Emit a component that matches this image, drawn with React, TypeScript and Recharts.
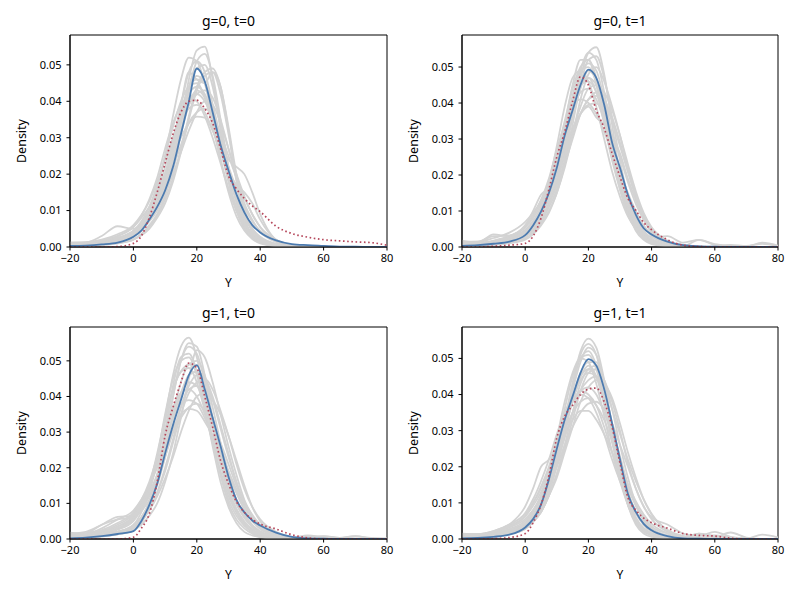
import React from "react";
import { LineChart, Line, XAxis, YAxis, ReferenceArea } from "recharts";

// shared x grid for all density curves
const GRID_X = [-20, -15, -10, -5, 0, 2.5, 5, 7.5, 10, 12.5, 15, 17.5, 20, 22.5, 25, 27.5, 30, 32.5, 35, 37.5, 40, 45, 50, 55, 60, 65, 70, 75, 80];
const X_TICKS = [-20, 0, 20, 40, 60, 80];
const Y_TICKS = [0, 0.01, 0.02, 0.03, 0.04, 0.05];

// ---------- panel g=0, t=0 ----------
const P1_MEAN = [.0003, .0004, .0007, .0012, .0028, .0045, .0075, .011, .0155, .022, .031, .040, .049, .0455, .037, .028, .021, .0145, .0095, .006, .0040, .0018, .0008, .0005, .0003, .0001, .0001, 0, 0];
const P1_OBS = [0, 0, 0, .0001, .001, .003, .008, .015, .023, .031, .037, .040, .0403, .038, .034, .027, .0195, .016, .0133, .0113, .0097, .0057, .0037, .0027, .002, .0017, .0014, .0012, .0005];
const P1_DRAWS = [
  [.0005, .0006, .0008, .0015, .003, .005, .008, .012, .017, .024, .034, .046, .054, .055, .046, .032, .019, .010, .005, .0025, .0012, .0004, .0002, .0001, 0, 0, 0, 0, 0],
  [.0012, .0012, .0018, .003, .0055, .008, .011, .015, .020, .025, .030, .034, .0358, .0355, .032, .027, .022, .016, .011, .007, .0045, .0015, .0005, .0002, .0001, 0, 0, 0, 0],
  [.0008, .0009, .0012, .002, .004, .006, .009, .013, .019, .028, .039, .048, .046, .045, .048, .044, .032, .018, .008, .003, .0012, .0003, .0001, 0, 0, 0, 0, 0, 0],
  [.0006, .0008, .0012, .002, .0035, .005, .007, .010, .015, .022, .031, .039, .043, .041, .035, .028, .024, .022, .020, .015, .009, .002, .0005, .0002, 0, 0, 0, 0, 0],
  [.001, .0012, .003, .0057, .005, .006, .009, .014, .020, .027, .035, .043, .047, .045, .037, .027, .018, .011, .0065, .0035, .0018, .0005, .0002, .0001, 0, 0, 0, 0, 0],
  [.0003, .0004, .0006, .001, .002, .0035, .006, .009, .014, .021, .031, .043, .051, .053, .047, .035, .022, .012, .006, .003, .0013, .0004, .0001, 0, 0, 0, 0, 0, 0],
  [.0008, .0009, .0012, .002, .0035, .005, .0075, .011, .015, .020, .026, .032, .037, .040, .039, .034, .027, .020, .014, .009, .0055, .002, .0006, .0002, .0001, 0, 0, 0, 0],
  [.001, .001, .0015, .0025, .0045, .007, .011, .017, .025, .033, .040, .044, .045, .041, .033, .024, .016, .010, .006, .0035, .002, .0007, .0002, .0001, 0, 0, 0, 0, 0],
  [.0006, .0007, .001, .0018, .0035, .0055, .009, .014, .020, .029, .039, .048, .051, .048, .039, .028, .018, .010, .0055, .003, .0015, .0005, .0001, 0, 0, 0, 0, 0, 0],
  [.0009, .001, .0015, .0025, .0045, .0065, .009, .0125, .017, .022, .028, .034, .037, .038, .036, .031, .025, .019, .0135, .009, .0055, .0018, .0005, .0002, .0001, 0, 0, 0, 0],
  [.0005, .0005, .0007, .0012, .0022, .0035, .0055, .0085, .013, .019, .027, .036, .044, .048, .049, .044, .033, .020, .010, .004, .0015, .0004, .0001, 0, 0, 0, 0, 0, 0],
  [.0008, .0009, .0012, .002, .004, .0065, .010, .015, .022, .030, .037, .041, .042, .040, .035, .028, .020, .013, .008, .0045, .0025, .0008, .0003, .0001, 0, 0, 0, 0, 0],
  [.0004, .0005, .0008, .0014, .0028, .0045, .0072, .011, .016, .024, .034, .044, .049, .050, .044, .033, .022, .013, .007, .0035, .0016, .0005, .0001, 0, 0, 0, 0, 0, 0],
  [.0007, .0008, .0012, .002, .004, .006, .0095, .014, .020, .028, .037, .044, .046, .045, .039, .030, .021, .014, .0085, .005, .0025, .0008, .0002, 0, 0, 0, 0, 0, 0],
  [.0006, .0007, .001, .0017, .0032, .005, .0078, .012, .017, .024, .032, .039, .042, .043, .041, .035, .027, .019, .012, .0075, .0042, .0014, .0004, .0001, 0, 0, 0, 0, 0],
  [.0012, .0013, .002, .0035, .006, .0088, .0125, .018, .024, .030, .035, .038, .039, .037, .032, .026, .019, .013, .0085, .005, .0028, .0009, .0003, .0001, 0, 0, 0, 0, 0],
  [.0004, .0004, .0006, .001, .002, .0032, .005, .008, .012, .018, .026, .035, .043, .047, .048, .042, .031, .019, .0105, .005, .0022, .0006, .0002, 0, 0, 0, 0, 0, 0],
  [.0006, .0007, .001, .0018, .0036, .006, .0098, .016, .025, .036, .046, .052, .051, .045, .035, .024, .015, .0085, .0045, .0022, .001, .0003, .0001, 0, 0, 0, 0, 0, 0],
  [.0007, .0008, .0011, .0018, .0034, .0052, .008, .012, .018, .026, .035, .042, .044, .042, .036, .028, .021, .017, .015, .012, .0075, .002, .0005, .0001, 0, 0, 0, 0, 0],
  [.001, .0011, .0017, .003, .0055, .0085, .013, .019, .027, .034, .039, .041, .040, .036, .030, .023, .016, .0105, .0065, .0038, .002, .0007, .0002, .0001, 0, 0, 0, 0, 0],
];

// ---------- panel g=0, t=1 ----------
const P2_MEAN = [.0003, .0005, .0009, .0015, .0033, .006, .0098, .015, .022, .031, .038, .045, .0493, .047, .0395, .029, .022, .0145, .009, .0052, .0035, .0015, .0005, .0002, .0001, 0, 0, 0, 0];
const P2_OBS = [0, 0, .0002, .0005, .001, .003, .008, .016, .025, .032, .0405, .0473, .045, .038, .033, .026, .0195, .0135, .0102, .0068, .0048, .002, .0005, .0001, 0, 0, 0, 0, 0];
const P2_DRAWS = [
  [.0004, .0005, .0008, .0015, .003, .005, .008, .012, .018, .026, .036, .047, .054, .0555, .048, .034, .020, .010, .0045, .002, .0008, .0002, .0001, 0, 0, 0, 0, 0, 0],
  [.0015, .0015, .0025, .004, .007, .0095, .0125, .016, .021, .027, .033, .037, .039, .036, .034, .031, .026, .019, .013, .008, .0045, .0015, .0005, .0002, .0001, 0, 0, 0, 0],
  [.0018, .0012, .0035, .003, .006, .010, .0145, .0165, .021, .028, .036, .044, .049, .046, .037, .026, .017, .010, .006, .0035, .0018, .0006, .0002, .0001, 0, 0, 0, 0, 0],
  [.0006, .0007, .001, .002, .004, .0065, .010, .016, .024, .034, .045, .052, .052, .045, .034, .024, .016, .010, .006, .0035, .002, .0006, .0002, 0, 0, 0, 0, 0, 0],
  [.0003, .0004, .0006, .001, .002, .0035, .006, .0095, .015, .022, .031, .041, .048, .050, .046, .039, .031, .022, .014, .008, .004, .0012, .0004, .0001, 0, 0, 0, 0, 0],
  [.0008, .0009, .0013, .0022, .004, .0065, .0105, .016, .023, .031, .038, .043, .044, .041, .035, .028, .021, .015, .010, .006, .0035, .0012, .0004, .0001, 0, 0, 0, 0, 0],
  [.0005, .0006, .0009, .0015, .003, .0048, .0075, .012, .018, .027, .038, .049, .054, .052, .043, .031, .020, .011, .0055, .0025, .0012, .0004, .0001, 0, 0, 0, 0, 0, 0],
  [.0008, .0008, .0012, .002, .0038, .006, .009, .014, .021, .029, .038, .045, .047, .045, .038, .029, .020, .013, .0075, .004, .0028, .003, .0012, .002, .0008, .0004, .0002, .0012, .0004],
  [.001, .001, .0016, .003, .0055, .0085, .013, .019, .027, .034, .039, .041, .040, .037, .032, .026, .020, .014, .009, .0055, .003, .001, .0003, .0001, 0, 0, 0, 0, 0],
  [.0006, .0007, .001, .0018, .0035, .006, .0095, .015, .023, .032, .042, .049, .050, .046, .037, .027, .018, .011, .006, .003, .0015, .0004, .0001, 0, 0, 0, 0, 0, 0],
  [.0005, .0006, .0009, .0015, .003, .0045, .007, .011, .016, .023, .030, .037, .041, .043, .041, .036, .029, .021, .014, .0085, .005, .0015, .0004, .0001, 0, 0, 0, 0, 0],
  [.0012, .0012, .0018, .003, .0055, .008, .012, .018, .026, .035, .044, .050, .052, .047, .037, .026, .016, .009, .005, .0025, .0012, .0004, .0001, 0, 0, 0, 0, 0, 0],
  [.0004, .0005, .0007, .0012, .0024, .004, .0065, .010, .015, .023, .034, .045, .052, .053, .047, .036, .024, .014, .007, .0032, .0014, .0004, .0001, 0, 0, 0, 0, 0, 0],
  [.0014, .0015, .003, .0032, .006, .009, .013, .018, .025, .033, .041, .046, .047, .043, .035, .026, .018, .011, .0065, .0035, .0018, .0006, .0002, .0001, 0, 0, 0, 0, 0],
  [.0006, .0006, .0009, .0015, .003, .0048, .0075, .012, .017, .024, .032, .039, .044, .045, .043, .038, .031, .023, .0155, .0095, .0055, .0018, .0005, .0001, 0, 0, 0, 0, 0],
  [.0007, .0008, .0012, .002, .004, .0068, .011, .018, .028, .039, .047, .049, .046, .039, .030, .021, .014, .0085, .005, .0028, .0015, .0005, .0001, 0, 0, 0, 0, 0, 0],
  [.0009, .001, .0015, .0026, .0048, .0072, .0105, .015, .020, .026, .032, .037, .0395, .040, .037, .031, .025, .018, .012, .0075, .0042, .0014, .0004, .0001, 0, 0, 0, 0, 0],
  [.0006, .0007, .001, .0017, .0033, .0055, .0088, .014, .021, .030, .040, .048, .051, .049, .041, .030, .020, .012, .0065, .0032, .0015, .0005, .0002, .002, .0006, .0002, 0, 0, 0],
  [.0008, .0009, .0014, .0024, .0045, .007, .011, .017, .025, .033, .041, .045, .046, .043, .036, .028, .020, .013, .008, .0045, .0024, .0008, .0002, .0001, 0, .0006, .0003, .0009, .0002],
  [.0007, .0008, .0012, .002, .0038, .0058, .009, .013, .019, .025, .031, .037, .041, .042, .040, .035, .028, .021, .0145, .009, .0052, .0017, .0005, .0001, 0, 0, 0, 0, 0],
];

// ---------- panel g=1, t=0 ----------
const P3_MEAN = [.0002, .0004, .0008, .0014, .0022, .005, .0095, .0155, .024, .032, .039, .046, .0488, .042, .034, .026, .0175, .011, .0075, .0052, .0038, .0018, .0006, .0002, .0001, 0, 0, 0, 0];
const P3_OBS = [0, 0, 0, 0, .0005, .003, .007, .016, .029, .037, .044, .0494, .048, .040, .0314, .022, .0155, .0105, .0075, .0055, .0042, .0028, .0012, .0003, 0, 0, 0, 0, 0];
const P3_DRAWS = [
  [.0005, .0006, .001, .002, .004, .0075, .013, .022, .034, .046, .054, .0565, .051, .040, .028, .018, .010, .0055, .003, .0015, .0007, .0002, .0001, 0, 0, 0, 0, 0, 0],
  [.0018, .0015, .003, .0055, .008, .011, .015, .020, .026, .031, .035, .0365, .036, .033, .029, .024, .019, .014, .0095, .006, .0035, .0012, .0005, .0008, .0006, .0003, .0008, .0003, .0002],
  [.0015, .002, .004, .0062, .0065, .0085, .012, .018, .026, .034, .041, .046, .047, .042, .033, .024, .016, .010, .006, .0035, .002, .0006, .0002, .0001, 0, 0, 0, 0, 0],
  [.0004, .0005, .0008, .0013, .0025, .004, .0065, .010, .016, .024, .034, .045, .053, .051, .044, .035, .026, .018, .011, .0065, .0035, .0012, .0004, .0001, 0, 0, 0, 0, 0],
  [.0009, .001, .0016, .003, .0055, .009, .015, .024, .034, .042, .047, .048, .044, .036, .027, .019, .012, .0075, .0045, .0025, .0014, .0005, .0002, 0, 0, 0, 0, 0, 0],
  [.0006, .0007, .001, .0018, .003, .005, .008, .012, .017, .023, .030, .036, .040, .041, .039, .035, .029, .022, .015, .009, .005, .0016, .0005, .0002, .0001, 0, 0, 0, 0],
  [.0005, .0006, .001, .0018, .0035, .006, .0105, .018, .029, .040, .050, .054, .052, .044, .032, .021, .013, .0075, .004, .002, .001, .0003, .0001, 0, 0, 0, 0, 0, 0],
  [.0012, .0012, .002, .0035, .0065, .010, .015, .021, .029, .036, .041, .044, .043, .038, .031, .024, .017, .011, .007, .004, .0022, .0008, .0003, .001, .0005, .0002, 0, 0, 0],
  [.0006, .0007, .0011, .002, .0038, .0062, .010, .016, .025, .035, .044, .049, .050, .046, .037, .027, .018, .011, .0065, .0035, .0018, .0005, .0002, 0, 0, 0, 0, 0, 0],
  [.0014, .0014, .0022, .004, .007, .0105, .015, .021, .028, .034, .038, .039, .038, .034, .029, .023, .018, .013, .009, .0058, .0035, .0012, .0004, .0001, 0, .0003, .0008, .0002, 0],
  [.0003, .0004, .0007, .0013, .0025, .0045, .009, .017, .030, .043, .051, .052, .047, .037, .026, .016, .009, .0045, .002, .001, .0005, .0001, 0, 0, 0, 0, 0, 0, 0],
  [.0007, .0008, .0012, .002, .0035, .0055, .0085, .013, .020, .028, .037, .043, .046, .045, .040, .032, .024, .016, .010, .006, .0033, .001, .0003, .0001, 0, 0, 0, 0, 0],
  [.0005, .0006, .0009, .0016, .0032, .0058, .010, .017, .028, .040, .050, .055, .054, .046, .034, .023, .014, .008, .0042, .002, .001, .0003, .0001, 0, 0, 0, 0, 0, 0],
  [.0006, .0007, .0011, .002, .0037, .006, .0095, .015, .023, .032, .040, .046, .047, .045, .039, .031, .023, .016, .010, .006, .0033, .001, .0003, .0001, 0, 0, 0, 0, 0],
  [.0015, .0016, .0025, .0045, .0075, .011, .016, .023, .031, .037, .041, .042, .040, .035, .028, .021, .015, .0098, .006, .0035, .002, .0007, .0002, .0001, 0, 0, 0, 0, 0],
  [.0008, .0009, .0014, .0026, .005, .0085, .014, .023, .035, .045, .050, .051, .046, .037, .027, .018, .011, .0065, .0037, .002, .001, .0003, .0001, 0, 0, 0, 0, 0, 0],
  [.0007, .0008, .0012, .002, .0035, .0055, .0085, .013, .019, .027, .035, .041, .044, .045, .042, .036, .029, .021, .014, .009, .0055, .002, .0006, .0002, .0008, .0003, 0, 0, 0],
  [.0013, .0013, .002, .0035, .006, .009, .013, .018, .024, .030, .034, .037, .038, .036, .032, .027, .021, .015, .0105, .0068, .004, .0014, .0005, .0003, .0007, .0003, .0002, 0, 0],
  [.0009, .001, .0016, .003, .0058, .0095, .015, .023, .033, .042, .047, .049, .047, .040, .031, .022, .014, .0085, .005, .0028, .0015, .0005, .0001, 0, 0, 0, 0, 0, 0],
  [.001, .0015, .004, .0055, .006, .0078, .011, .016, .023, .030, .037, .042, .043, .040, .034, .026, .019, .013, .0082, .005, .0028, .0009, .0003, .0001, 0, 0, 0, 0, 0],
];

// ---------- panel g=1, t=1 ----------
const P4_MEAN = [.0002, .0003, .0006, .0012, .0032, .0055, .0095, .0165, .025, .033, .0395, .046, .0498, .048, .0415, .032, .022, .0125, .0075, .0042, .0024, .0008, .0002, .0001, 0, 0, 0, 0, 0];
const P4_OBS = [0, 0, .0001, .0004, .0015, .0045, .0095, .0175, .028, .034, .037, .040, .0415, .0418, .038, .031, .021, .0115, .008, .0058, .0045, .003, .0015, .001, .0008, .0002, 0, 0, 0];
const P4_DRAWS = [
  [.0004, .0005, .0008, .0015, .003, .005, .0085, .014, .022, .032, .043, .052, .0555, .053, .044, .031, .019, .0095, .004, .0015, .0006, .0002, 0, 0, 0, 0, 0, 0, 0],
  [.0015, .0014, .0022, .004, .007, .010, .014, .019, .024, .029, .033, .0355, .0355, .033, .029, .024, .019, .014, .0095, .006, .0035, .0015, .0005, .0015, .0008, .0003, .0001, .0012, .0004],
  [.0008, .001, .0018, .004, .009, .014, .020, .022, .026, .032, .039, .045, .048, .045, .037, .027, .018, .011, .006, .003, .0015, .0005, .0002, 0, 0, 0, 0, 0, 0],
  [.0005, .0006, .001, .0018, .0035, .006, .0095, .015, .023, .033, .043, .050, .052, .048, .039, .028, .018, .010, .0055, .0028, .0014, .0004, .0001, 0, 0, 0, 0, 0, 0],
  [.0005, .0006, .0009, .0016, .003, .0048, .0075, .012, .018, .025, .033, .041, .046, .047, .044, .038, .030, .021, .014, .009, .006, .004, .0015, .0008, .002, .0006, .0002, 0, 0],
  [.001, .001, .0016, .0028, .005, .008, .012, .018, .025, .032, .038, .041, .042, .040, .035, .029, .022, .015, .0095, .0055, .003, .001, .0003, .0001, 0, 0, 0, 0, 0],
  [.0004, .0005, .0008, .0014, .0028, .0048, .008, .013, .021, .031, .042, .051, .054, .051, .041, .029, .018, .0095, .0045, .002, .001, .0003, 0, 0, 0, 0, 0, 0, 0],
  [.0012, .0012, .0019, .0032, .0055, .008, .011, .015, .020, .026, .031, .035, .0375, .038, .036, .032, .026, .020, .014, .009, .0055, .002, .0006, .0002, .001, .0003, 0, 0, 0],
  [.0008, .0009, .0014, .0025, .0045, .0075, .012, .019, .028, .038, .046, .050, .049, .043, .034, .024, .016, .0095, .0055, .003, .0015, .0005, .0001, 0, 0, 0, 0, 0, 0],
  [.0007, .0008, .0012, .002, .0038, .006, .0095, .015, .021, .028, .035, .041, .044, .045, .042, .036, .029, .022, .016, .011, .007, .0025, .0008, .0003, .0001, 0, 0, 0, 0],
  [.0005, .0006, .0009, .0016, .003, .005, .008, .013, .020, .029, .039, .046, .049, .049, .042, .032, .022, .013, .0075, .004, .002, .0006, .0002, 0, 0, 0, 0, 0, 0],
  [.0014, .0014, .0022, .004, .0072, .011, .016, .022, .029, .035, .039, .040, .039, .035, .029, .022, .016, .011, .0072, .0045, .0025, .0009, .0003, .0001, 0, 0, 0, 0, 0],
  [.0004, .0005, .0008, .0014, .0028, .0048, .008, .013, .021, .031, .041, .049, .053, .051, .043, .031, .020, .011, .0055, .0025, .0011, .0003, .0001, 0, 0, 0, 0, 0, 0],
  [.0006, .0007, .0011, .002, .0038, .0062, .0098, .015, .023, .031, .039, .045, .047, .045, .038, .029, .020, .013, .0075, .004, .002, .0007, .0002, 0, 0, 0, 0, 0, 0],
  [.0005, .0006, .0009, .0016, .003, .0048, .0075, .012, .017, .024, .031, .038, .042, .044, .043, .039, .032, .024, .017, .011, .0068, .0025, .0008, .0002, .0001, 0, 0, 0, 0],
  [.0012, .0013, .002, .0036, .0065, .010, .0145, .020, .027, .033, .038, .041, .040, .037, .031, .024, .017, .011, .007, .004, .0022, .0008, .0002, .0001, 0, 0, 0, 0, 0],
  [.0006, .0007, .0011, .002, .004, .0068, .011, .017, .026, .036, .045, .050, .051, .047, .038, .027, .017, .0095, .005, .0025, .0012, .0004, .0001, 0, 0, 0, 0, 0, 0],
  [.0008, .0009, .0013, .0023, .0042, .0066, .010, .015, .022, .030, .038, .044, .046, .045, .039, .031, .023, .015, .0092, .0052, .0028, .0009, .0003, .0015, .0005, .0018, .0004, 0, 0],
  [.0013, .0013, .002, .0035, .0062, .0092, .013, .018, .024, .030, .035, .038, .039, .037, .033, .027, .021, .015, .0105, .0068, .0042, .0016, .0006, .0002, .0001, 0, 0, 0, 0],
  [.0005, .0006, .0009, .0015, .0029, .0047, .0074, .012, .018, .026, .035, .043, .047, .048, .044, .036, .026, .017, .0098, .0052, .0026, .0008, .0002, 0, 0, 0, 0, 0, 0],
];

const FONT = "'Noto Sans', 'DejaVu Sans', sans-serif";
const GREY = "#d3d3d3";
const BLUE = "#4c7bb0";
const RED = "#b5475b";

const toPoints = (vals: number[]) => GRID_X.map((x, i) => ({ x, y: vals[i] }));
const fmtX = (v: number) => (v < 0 ? "\u2212" + Math.abs(v) : String(v));
const fmtY = (v: number) => v.toFixed(2);

type PanelProps = {
  title: string;
  left: number;
  top: number;
  plotLeft: number;
  plotRight: number;
  plotTop: number;
  plotBottom: number;
  yMax: number;
  draws: number[][];
  mean: number[];
  obs: number[];
};

function Panel(p: PanelProps) {
  const W = 400;
  const H = 300;
  const xAxisH = H - p.plotBottom;
  const plotCx = (p.plotLeft + p.plotRight) / 2;
  const plotCy = (p.plotTop + p.plotBottom) / 2;
  return (
    <div style={{ position: "absolute", left: p.left, top: p.top, width: W, height: H }}>
      <LineChart
        width={W}
        height={H}
        margin={{ top: p.plotTop, right: W - p.plotRight, left: 0, bottom: 0 }}
        style={{ fontFamily: FONT }}
      >
        <XAxis
          type="number"
          dataKey="x"
          domain={[-20, 80]}
          ticks={X_TICKS}
          interval={0}
          allowDataOverflow
          tickFormatter={fmtX}
          height={xAxisH}
          tickSize={3.5}
          tickMargin={4}
          stroke="#000"
          tickLine={{ stroke: "#000" }}
          axisLine={{ stroke: "#000" }}
          tick={{ fill: "#000", fontSize: 11, fontFamily: FONT }}
        />
        <YAxis
          type="number"
          dataKey="y"
          domain={[0, p.yMax]}
          ticks={Y_TICKS}
          interval={0}
          allowDataOverflow
          tickFormatter={fmtY}
          width={p.plotLeft}
          tickSize={3.5}
          tickMargin={5}
          stroke="#000"
          tickLine={{ stroke: "#000" }}
          axisLine={{ stroke: "#000" }}
          tick={{ fill: "#000", fontSize: 11, fontFamily: FONT }}
        />
        {p.draws.map((d, i) => (
          <Line
            key={"d" + i}
            data={toPoints(d)}
            dataKey="y"
            type="monotone"
            stroke={GREY}
            strokeWidth={1.8}
            dot={false}
            activeDot={false}
            isAnimationActive={false}
          />
        ))}
        <Line
          data={toPoints(p.mean)}
          dataKey="y"
          type="monotone"
          stroke={BLUE}
          strokeWidth={1.8}
          dot={false}
          activeDot={false}
          isAnimationActive={false}
        />
        <Line
          data={toPoints(p.obs)}
          dataKey="y"
          type="monotone"
          stroke={RED}
          strokeWidth={1.7}
          strokeDasharray="1.6 2.6"
          dot={false}
          activeDot={false}
          isAnimationActive={false}
        />
        <ReferenceArea x1={-20} x2={80} y1={0} y2={p.yMax} fill="none" stroke="#000" strokeWidth={1} fillOpacity={0} />
      </LineChart>
      <div
        style={{
          position: "absolute",
          left: plotCx - 100,
          width: 200,
          top: p.plotTop - 22,
          textAlign: "center",
          fontFamily: FONT,
          fontSize: 14,
          lineHeight: "16px",
          color: "#000",
        }}
      >
        {p.title}
      </div>
      <div
        style={{
          position: "absolute",
          left: plotCx - 50,
          width: 100,
          top: p.plotBottom + 28,
          textAlign: "center",
          fontFamily: FONT,
          fontSize: 12,
          lineHeight: "16px",
          color: "#000",
        }}
      >
        Y
      </div>
      <div
        style={{
          position: "absolute",
          left: p.plotLeft - 48 - 50,
          top: plotCy - 8,
          width: 100,
          textAlign: "center",
          fontFamily: FONT,
          fontSize: 12.5,
          lineHeight: "16px",
          color: "#000",
          transform: "rotate(-90deg)",
        }}
      >
        Density
      </div>
    </div>
  );
}

export default function App() {
  return (
    <div style={{ position: "absolute", left: 0, top: 0, width: 800, height: 600, background: "#fff", overflow: "hidden" }}>
      <Panel title="g=0, t=0" left={0} top={0} plotLeft={70} plotRight={387} plotTop={35} plotBottom={247} yMax={0.0582} draws={P1_DRAWS} mean={P1_MEAN} obs={P1_OBS} />
      <Panel title="g=0, t=1" left={400} top={0} plotLeft={62} plotRight={378} plotTop={35} plotBottom={247} yMax={0.0589} draws={P2_DRAWS} mean={P2_MEAN} obs={P2_OBS} />
      <Panel title="g=1, t=0" left={0} top={300} plotLeft={70} plotRight={387} plotTop={27} plotBottom={239} yMax={0.0595} draws={P3_DRAWS} mean={P3_MEAN} obs={P3_OBS} />
      <Panel title="g=1, t=1" left={400} top={300} plotLeft={62} plotRight={378} plotTop={27} plotBottom={239} yMax={0.0587} draws={P4_DRAWS} mean={P4_MEAN} obs={P4_OBS} />
    </div>
  );
}
